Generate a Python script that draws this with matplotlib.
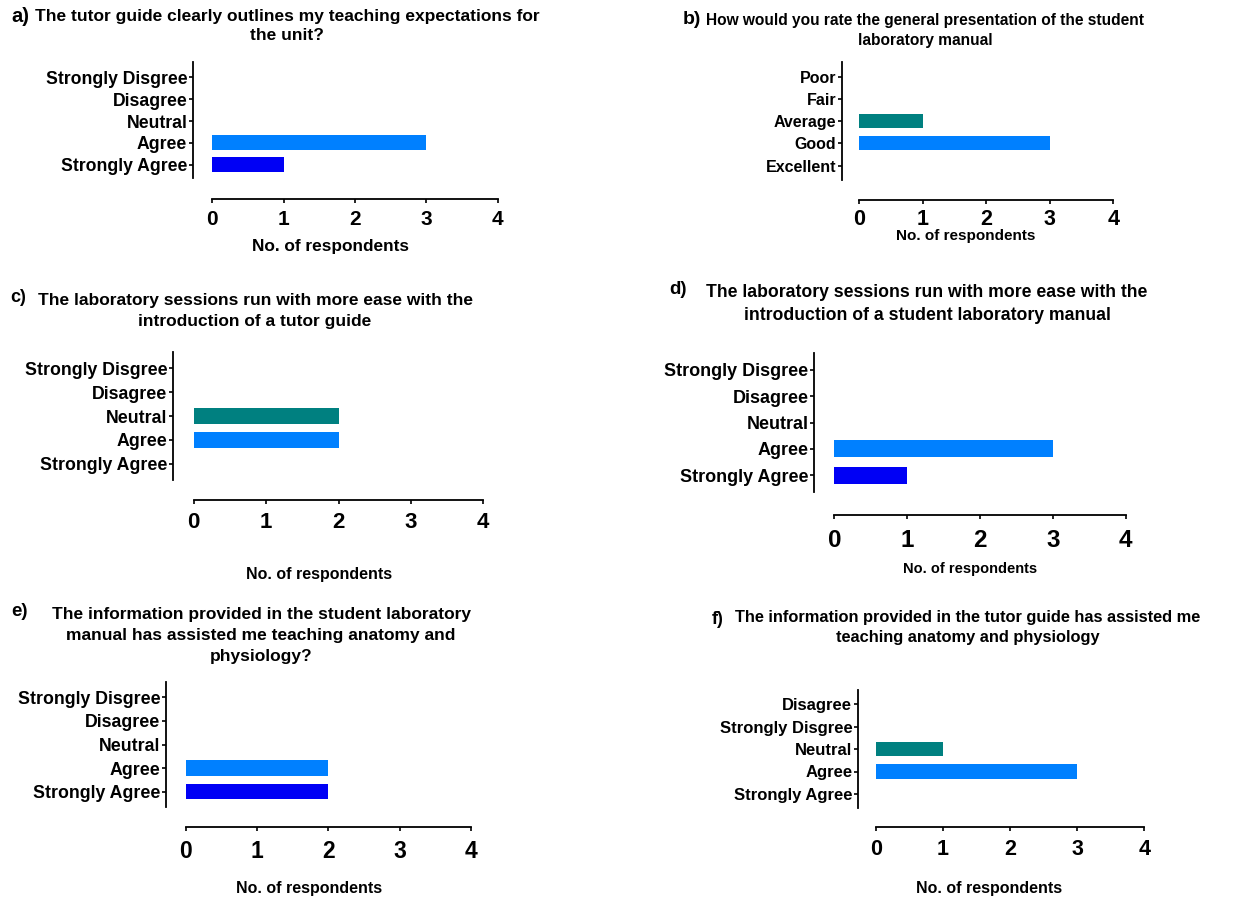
import matplotlib
matplotlib.use("Agg")
import matplotlib.pyplot as plt

plt.rcParams['font.family'] = ['Liberation Sans', 'DejaVu Sans']
plt.rcParams['font.weight'] = 'bold'

W, H, DPI = 1252, 898, 100
PT = 72.0 / DPI  # pixels -> points

# survey data (categories listed top to bottom as drawn)
agree_labels = ["Strongly Disgree", "Disagree", "Neutral", "Agree", "Strongly Agree"]
rating_labels = ["Poor", "Fair", "Average", "Good", "Excellent"]
f_labels = ["Disagree", "Strongly Disgree", "Neutral", "Agree", "Strongly Agree"]

a_values = [0, 0, 0, 3, 1]
b_values = [0, 0, 1, 3, 0]
c_values = [0, 0, 2, 2, 0]
d_values = [0, 0, 0, 3, 1]
e_values = [0, 0, 0, 2, 2]
f_values = [0, 0, 1, 3, 0]

x_ticks = [0, 1, 2, 3, 4]

TEAL = '#008080'
LIGHT = '#0080FF'
DARK = '#0000F5'
colour_map = {"Neutral": TEAL, "Average": TEAL, "Agree": LIGHT, "Good": LIGHT,
              "Strongly Agree": DARK}

titles = {
    'a': ["The tutor guide clearly outlines my teaching expectations for", "the unit?"],
    'b': ["How would you rate the general presentation of the student", "laboratory manual"],
    'c': ["The laboratory sessions run with more ease with the", "introduction of a tutor guide"],
    'd': ["The laboratory sessions run with more ease with the",
          "introduction of a student laboratory manual"],
    'e': ["The information provided in the student laboratory",
          "manual has assisted me teaching anatomy and", "physiology?"],
    'f': ["The information provided in the tutor guide has assisted me",
          "teaching anatomy and physiology"],
}

panels = [
    dict(key='a', labels=agree_labels, values=a_values, ysx=192.7, x0=212.3, x4=497.7,
         top=61.7, bot=178, c0=77.3, step=21.85, xsy=199, tick_y=218, tick_fs=15,
         cat_fs=12.7, bar_h=0.68, tcx=287, ty1=16.7, gap=19.3, tfs=12.5,
         px=11, py=16, pfs=14.5, xl=(331, 247), xlfs=12.4),
    dict(key='b', labels=rating_labels, values=b_values, ysx=841.7, x0=859, x4=1113.3,
         top=61.7, bot=180, c0=76.7, step=22.2, xsy=200, tick_y=217, tick_fs=15.5,
         cat_fs=11.5, bar_h=0.64, tcx=925, ty1=20, gap=20, tfs=11.2,
         px=683, py=19, pfs=14, xl=(966, 236), xlfs=11),
    dict(key='c', labels=agree_labels, values=c_values, ysx=173, x0=193.7, x4=483.3,
         top=351.7, bot=480, c0=368.3, step=23.85, xsy=500, tick_y=520.7, tick_fs=16,
         cat_fs=12.8, bar_h=0.67, tcx=255, ty1=300.7, gap=21, tfs=12.5,
         px=10, py=297, pfs=13, xl=(319, 575), xlfs=11.5),
    dict(key='d', labels=agree_labels, values=d_values, ysx=814, x0=834.3, x4=1125.7,
         top=353.3, bot=491.7, c0=370, step=26.3, xsy=515, tick_y=538.3, tick_fs=17.5,
         cat_fs=13, bar_h=0.65, tcx=927, ty1=292.7, gap=23.3, tfs=12.7,
         px=669, py=289, pfs=13.5, xl=(969.7, 569.3), xlfs=10.5),
    dict(key='e', labels=agree_labels, values=e_values, ysx=166, x0=185.7, x4=471,
         top=682.3, bot=806.7, c0=697.3, step=23.6, xsy=827.3, tick_y=848.3, tick_fs=16.5,
         cat_fs=12.8, bar_h=0.65, tcx=261, ty1=615, gap=20.8, tfs=12.5,
         px=11.7, py=612, pfs=13.5, xl=(308.8, 888.3), xlfs=11.5),
    dict(key='f', labels=f_labels, values=f_values, ysx=857.7, x0=876, x4=1144.3,
         top=690, bot=808.3, c0=704.3, step=22.4, xsy=827.3, tick_y=846.7, tick_fs=15.5,
         cat_fs=12, bar_h=0.63, tcx=967.5, ty1=617.7, gap=20, tfs=11.75,
         px=711.7, py=620, pfs=13, xl=(989.2, 888.3), xlfs=11.5),
]

fig = plt.figure(figsize=(W / DPI, H / DPI), dpi=DPI)
TICK_LEN = 4.0  # px


def draw_panel(p):
    left = p['x0'] / W
    width = (p['x4'] - p['x0']) / W
    bottom = 1 - p['bot'] / H
    height = (p['bot'] - p['top']) / H
    ax = fig.add_axes([left, bottom, width, height])

    ypos = list(range(len(p['labels'])))
    colours = [colour_map.get(lab, LIGHT) for lab in p['labels']]
    ax.barh(ypos, p['values'], height=p['bar_h'], color=colours, edgecolor='none')

    ax.set_xlim(0, 4)
    ax.set_ylim((p['bot'] - p['c0']) / p['step'], (p['top'] - p['c0']) / p['step'])
    ax.set_xticks(x_ticks)
    ax.set_yticks(ypos)
    ax.set_yticklabels(p['labels'])

    for s in ('top', 'right'):
        ax.spines[s].set_visible(False)
    ax.spines['left'].set_position(('outward', (p['x0'] - p['ysx']) * PT))
    ax.spines['bottom'].set_position(('outward', (p['xsy'] - p['bot']) * PT))
    for s in ('left', 'bottom'):
        ax.spines[s].set_linewidth(1.3)

    em = p['tick_fs'] / PT
    pad_px = p['tick_y'] - p['xsy'] - TICK_LEN - 0.37 * em
    ax.tick_params(axis='x', direction='out', length=TICK_LEN * PT, width=1.2,
                   labelsize=p['tick_fs'], pad=pad_px * PT)
    ax.tick_params(axis='y', direction='out', length=TICK_LEN * PT, width=1.2,
                   labelsize=p['cat_fs'], pad=1)

    ax.set_xlabel("No. of respondents", fontsize=p['xlfs'], fontweight='bold')
    ax.xaxis.set_label_coords(p['xl'][0] / W, 1 - p['xl'][1] / H, transform=fig.transFigure)
    ax.xaxis.label.set_verticalalignment('center')

    for i, line in enumerate(titles[p['key']]):
        fig.text(p['tcx'] / W, 1 - (p['ty1'] + i * p['gap']) / H, line,
                 ha='center', va='center', fontsize=p['tfs'], fontweight='bold')
    fig.text(p['px'] / W, 1 - p['py'] / H, p['key'] + ')', ha='left', va='center',
             fontsize=p['pfs'], fontweight='bold')


for p in panels:
    draw_panel(p)

fig.savefig("out.png", dpi=DPI)
